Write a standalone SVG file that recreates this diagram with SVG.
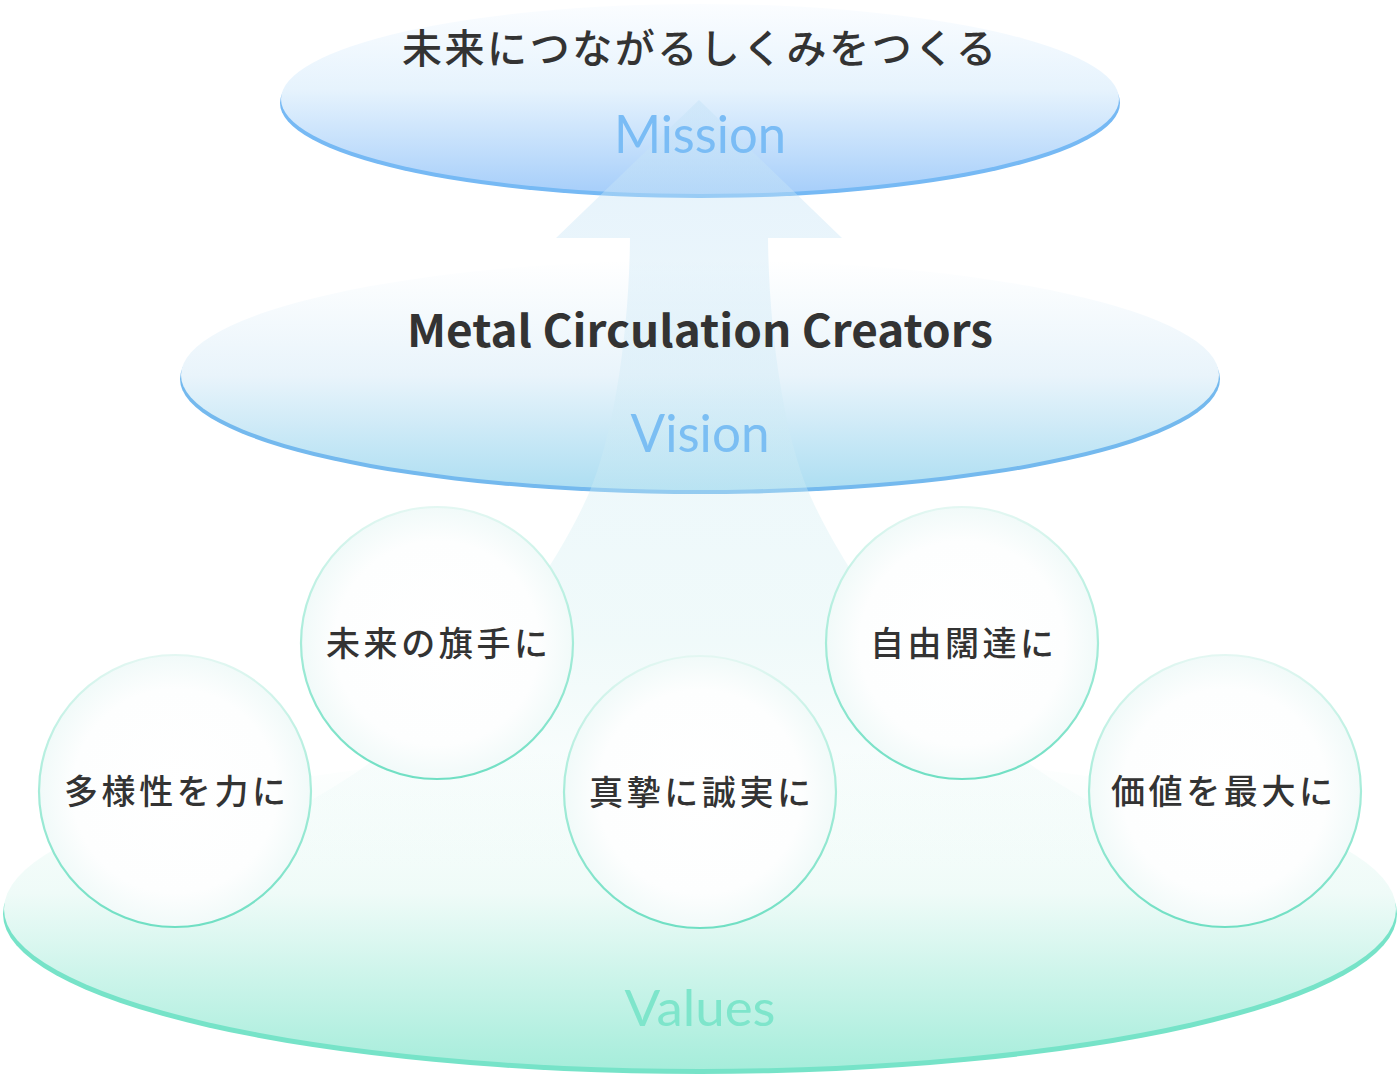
<svg xmlns="http://www.w3.org/2000/svg" width="1400" height="1077" viewBox="0 0 1400 1077">
<defs>
<linearGradient id="gMission" x1="0" y1="0" x2="0" y2="1">
<stop offset="0" stop-color="#fbfdff"/>
<stop offset="0.45" stop-color="#e6f3fd"/>
<stop offset="1" stop-color="#a6cefa"/>
</linearGradient>
<linearGradient id="gVision" x1="0" y1="0" x2="0" y2="1">
<stop offset="0" stop-color="#ffffff"/>
<stop offset="0.5" stop-color="#e9f4fb"/>
<stop offset="1" stop-color="#addef2"/>
</linearGradient>
<linearGradient id="gValues" x1="0" y1="0" x2="0" y2="1">
<stop offset="0" stop-color="#ffffff"/>
<stop offset="0.45" stop-color="#effbf8"/>
<stop offset="1" stop-color="#a6eddb"/>
</linearGradient>
<linearGradient id="gArrow" gradientUnits="userSpaceOnUse" x1="0" y1="100" x2="0" y2="1000">
<stop offset="0" stop-color="#c4e2f7" stop-opacity="0.45"/>
<stop offset="0.3" stop-color="#cfeaf6" stop-opacity="0.38"/>
<stop offset="0.6" stop-color="#d0eff0" stop-opacity="0.32"/>
<stop offset="0.85" stop-color="#cdf0ea" stop-opacity="0"/>
</linearGradient>
<radialGradient id="gCircle" cx="0.5" cy="0.5" r="0.5">
<stop offset="0" stop-color="#ffffff"/>
<stop offset="0.75" stop-color="#fdfefe"/>
<stop offset="1" stop-color="#f1faf9"/>
</radialGradient>
<linearGradient id="gCircleStroke" x1="0" y1="0" x2="0" y2="1">
<stop offset="0" stop-color="#e3f7f2"/>
<stop offset="0.5" stop-color="#a6ecd9"/>
<stop offset="1" stop-color="#6fdfc3"/>
</linearGradient>
</defs>
<style>
.ttl{font-family:"Noto Sans CJK JP","Noto Sans",sans-serif;font-weight:500;fill:#333333;text-anchor:middle}
.lbl{font-family:"Lato","Open Sans",sans-serif;font-weight:400;text-anchor:middle}
.ctext{font-family:"Noto Sans CJK JP",sans-serif;font-weight:500;font-size:34px;fill:#333333;text-anchor:middle}
.circle{fill:url(#gCircle);stroke:url(#gCircleStroke);stroke-width:2.2}
</style>

<g id="node-values">
<ellipse cx="700" cy="914" rx="697" ry="160" fill="#76e3c8"/>
<ellipse cx="700" cy="909" rx="696" ry="160" fill="url(#gValues)"/>
</g>

<g id="node-vision">
<ellipse cx="700" cy="379" rx="520" ry="115" fill="#74b9ee"/>
<ellipse cx="700" cy="375" rx="519" ry="115" fill="url(#gVision)"/>
</g>

<g id="node-mission">
<ellipse cx="700" cy="103" rx="420" ry="95" fill="#76b9f4"/>
<ellipse cx="700" cy="99" rx="419" ry="95" fill="url(#gMission)"/>
</g>

<g id="connectors">
<path d="M699,100 L842,238 L768,238 C769,340 786,440 809,493 C832,546 898,660 1018,755 C1098,818 1248,880 1378,930 L1378,1000 L20,1000 L20,930 C150,880 300,818 380,755 C500,660 566,546 589,493 C612,440 629,340 630,238 L556,238 Z" fill="url(#gArrow)"/>
</g>

<g id="node-mission-text">
<text class="ttl" x="699" y="63" font-size="40" textLength="594" lengthAdjust="spacing">未来につながるしくみをつくる</text>
<text class="lbl" x="700" y="153" font-size="52" fill="#7abcf5" textLength="172" lengthAdjust="spacingAndGlyphs">Mission</text>
</g>

<g id="node-vision-text">
<text class="ttl" x="700" y="347" font-size="44" textLength="586" lengthAdjust="spacingAndGlyphs" style="font-family:'Noto Sans CJK JP','Noto Sans',sans-serif;font-weight:700">Metal Circulation Creators</text>
<text class="lbl" x="700" y="452" font-size="52" fill="#7bbef3" textLength="139" lengthAdjust="spacingAndGlyphs">Vision</text>
</g>

<g id="node-values-text">
<text class="lbl" x="700" y="1026" font-size="50" fill="#7ee5cb" textLength="151" lengthAdjust="spacingAndGlyphs">Values</text>
</g>

<g id="node-c1">
<circle class="circle" cx="175" cy="791" r="136"/>
<text class="ctext" x="175" y="804" textLength="222" lengthAdjust="spacing">多様性を力に</text>
</g>
<g id="node-c2">
<circle class="circle" cx="437" cy="643" r="136"/>
<text class="ctext" x="437" y="656" textLength="222" lengthAdjust="spacing">未来の旗手に</text>
</g>
<g id="node-c3">
<circle class="circle" cx="700" cy="792" r="136"/>
<text class="ctext" x="700" y="805" textLength="222" lengthAdjust="spacing">真摯に誠実に</text>
</g>
<g id="node-c4">
<circle class="circle" cx="962" cy="643" r="136"/>
<text class="ctext" x="962" y="656" textLength="184" lengthAdjust="spacing">自由闊達に</text>
</g>
<g id="node-c5">
<circle class="circle" cx="1225" cy="791" r="136"/>
<text class="ctext" x="1222" y="804" textLength="222" lengthAdjust="spacing">価値を最大に</text>
</g>
</svg>
